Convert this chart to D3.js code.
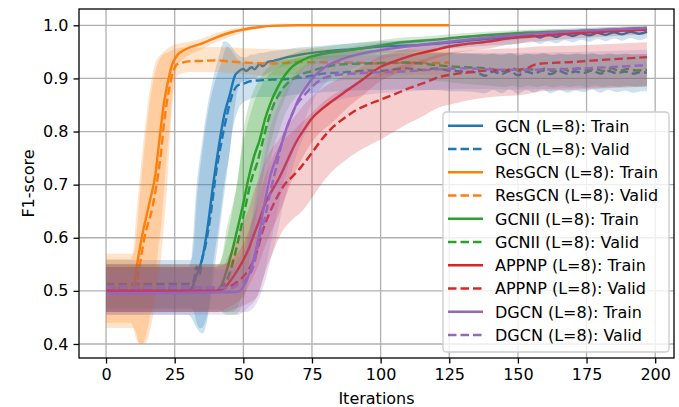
<!DOCTYPE html>
<html>
<head>
<meta charset="utf-8">
<script src="https://cdn.jsdelivr.net/npm/d3@7"></script>
<style>
  body { margin: 0; background: #fff; }
  text { font-family: "DejaVu Sans", sans-serif; }
</style>
</head>
<body>
<div id="chart"></div>
<script>
// [iteration, mean F1, band low, band high]
const gcnTrain = [
  [0,0.500,0.455,0.545],[30,0.500,0.455,0.545],[31,0.503,0.45,0.56],[33,0.530,0.43,0.70],
  [35,0.560,0.42,0.78],[37,0.620,0.45,0.85],[39,0.700,0.55,0.90],[41,0.770,0.62,0.94],
  [43,0.830,0.70,0.97],[45,0.868,0.76,0.965],[47,0.906,0.85,0.95],[48,0.912,0.88,0.945],
  [50,0.918,0.895,0.94],[51,0.914,0.895,0.94],[53,0.921,0.90,0.945],[54,0.917,0.90,0.945],
  [56,0.927,0.905,0.948],[57,0.923,0.905,0.948],[59,0.931,0.91,0.95],[61,0.933,0.915,0.952],
  [63,0.936,0.92,0.953],[66,0.940,0.925,0.955],[70,0.944,0.93,0.958],[75,0.948,0.935,0.96],
  [80,0.951,0.938,0.962],[90,0.955,0.942,0.966],[100,0.960,0.947,0.97],[110,0.962,0.95,0.972],
  [120,0.965,0.953,0.975],[130,0.970,0.958,0.979],[140,0.975,0.962,0.983],[150,0.978,0.965,0.986],
  [155,0.982,0.97,0.99],[158,0.977,0.965,0.986],[161,0.983,0.97,0.99],[164,0.978,0.966,0.987],
  [167,0.984,0.972,0.991],[170,0.980,0.968,0.988],[173,0.985,0.973,0.992],[176,0.981,0.969,0.989],
  [179,0.986,0.974,0.993],[182,0.982,0.97,0.99],[185,0.987,0.975,0.994],[188,0.983,0.971,0.991],
  [191,0.988,0.976,0.995],[194,0.984,0.972,0.992],[197,0.988,0.976,0.995]
];
const gcnValid = [
  [0,0.513,0.468,0.558],[31,0.513,0.468,0.558],[32,0.520,0.46,0.59],[33,0.545,0.44,0.67],
  [34,0.530,0.43,0.72],[35,0.560,0.43,0.76],[36,0.580,0.44,0.80],[38,0.640,0.48,0.86],
  [40,0.720,0.56,0.90],[42,0.780,0.64,0.93],[44,0.830,0.72,0.96],[46,0.870,0.80,0.95],
  [48,0.887,0.84,0.935],[50,0.890,0.855,0.93],[52,0.894,0.86,0.93],[55,0.896,0.865,0.93],
  [58,0.897,0.865,0.932],[62,0.898,0.865,0.933],[66,0.899,0.867,0.935],[70,0.901,0.87,0.937],
  [75,0.905,0.872,0.94],[79,0.909,0.874,0.942],[85,0.911,0.876,0.944],[90,0.913,0.877,0.945],
  [96,0.915,0.878,0.946],[100,0.914,0.878,0.946],[105,0.917,0.879,0.947],[110,0.919,0.88,0.948],
  [115,0.916,0.878,0.948],[120,0.919,0.878,0.948],[125,0.915,0.876,0.947],[130,0.913,0.876,0.946],
  [135,0.911,0.874,0.946],[138,0.905,0.872,0.944],[141,0.913,0.878,0.947],[144,0.908,0.872,0.944],
  [147,0.914,0.879,0.948],[150,0.906,0.871,0.943],[153,0.913,0.878,0.947],[156,0.909,0.873,0.945],
  [159,0.915,0.879,0.948],[162,0.908,0.872,0.944],[165,0.914,0.878,0.947],[168,0.909,0.873,0.945],
  [171,0.913,0.877,0.947],[174,0.910,0.874,0.945],[177,0.915,0.879,0.948],[180,0.909,0.873,0.944],
  [183,0.914,0.878,0.947],[186,0.910,0.874,0.945],[189,0.913,0.877,0.947],[192,0.909,0.873,0.945],
  [195,0.912,0.876,0.946],[197,0.911,0.876,0.946]
];
const resTrain = [
  [0,0.500,0.44,0.56],[9,0.500,0.44,0.56],[10,0.505,0.43,0.58],[11,0.540,0.41,0.64],
  [13,0.600,0.40,0.75],[16,0.670,0.45,0.88],[18,0.720,0.52,0.93],[19,0.765,0.58,0.94],
  [20,0.810,0.62,0.945],[21,0.850,0.68,0.95],[22,0.880,0.75,0.955],[23,0.905,0.80,0.958],
  [24,0.925,0.86,0.962],[26,0.944,0.925,0.965],[29,0.955,0.94,0.968],[35,0.966,0.955,0.975],
  [40,0.977,0.968,0.985],[45,0.986,0.978,0.992],[50,0.992,0.987,0.997],[55,0.996,0.993,0.999],
  [60,0.999,0.997,1.0],[70,1.0,0.999,1.0],[125,1.0,0.999,1.0]
];
const resValid = [
  [0,0.505,0.43,0.57],[10,0.505,0.43,0.57],[11,0.510,0.42,0.60],[12,0.540,0.40,0.66],
  [14,0.600,0.40,0.77],[17,0.660,0.45,0.89],[19,0.720,0.52,0.93],[20,0.760,0.56,0.94],
  [21,0.810,0.62,0.945],[22,0.850,0.68,0.948],[23,0.880,0.76,0.95],[24,0.905,0.84,0.953],
  [25,0.920,0.89,0.955],[26,0.927,0.905,0.957],[28,0.930,0.91,0.958],[30,0.932,0.912,0.958],
  [35,0.933,0.912,0.958],[40,0.934,0.912,0.959],[45,0.932,0.91,0.958],[50,0.930,0.908,0.957],
  [55,0.929,0.906,0.956],[60,0.928,0.905,0.955],[65,0.929,0.906,0.955],[70,0.931,0.908,0.956],
  [80,0.930,0.908,0.956],[90,0.930,0.907,0.955],[100,0.928,0.906,0.954],[110,0.930,0.907,0.955],
  [120,0.929,0.906,0.954],[125,0.930,0.907,0.955]
];
const gcn2Train = [
  [0,0.500,0.46,0.545],[40,0.500,0.46,0.545],[42,0.510,0.46,0.56],[44,0.540,0.46,0.62],
  [46,0.577,0.46,0.66],[48,0.620,0.47,0.71],[50,0.665,0.50,0.80],[52,0.715,0.55,0.85],
  [54,0.755,0.62,0.88],[56,0.785,0.68,0.90],[58,0.825,0.74,0.915],[60,0.855,0.78,0.925],
  [62,0.878,0.82,0.932],[65,0.905,0.86,0.94],[67,0.918,0.885,0.945],[70,0.930,0.905,0.95],
  [73,0.938,0.92,0.955],[80,0.947,0.932,0.96],[90,0.954,0.94,0.966],[100,0.962,0.95,0.972],
  [108,0.968,0.957,0.977],[118,0.972,0.962,0.98],[130,0.978,0.969,0.985],[150,0.985,0.978,0.991],
  [175,0.990,0.984,0.995],[197,0.995,0.99,0.999]
];
const gcn2Valid = [
  [0,0.506,0.465,0.55],[41,0.506,0.465,0.55],[44,0.520,0.455,0.60],[47,0.570,0.455,0.68],
  [50,0.640,0.48,0.78],[53,0.710,0.55,0.84],[55,0.740,0.60,0.87],[57,0.780,0.66,0.89],
  [59,0.820,0.72,0.905],[61,0.850,0.77,0.915],[63,0.870,0.80,0.922],[65,0.885,0.83,0.93],
  [67,0.895,0.85,0.935],[70,0.905,0.87,0.94],[75,0.914,0.885,0.943],[80,0.922,0.893,0.947],
  [85,0.926,0.896,0.95],[93,0.928,0.898,0.952],[100,0.929,0.899,0.953],[108,0.930,0.9,0.953],
  [115,0.928,0.898,0.952],[120,0.925,0.895,0.95],[125,0.923,0.893,0.949],[130,0.921,0.89,0.948],
  [135,0.920,0.888,0.947],[140,0.918,0.886,0.946],[145,0.914,0.884,0.945],[148,0.919,0.886,0.947],
  [151,0.913,0.883,0.944],[154,0.918,0.886,0.946],[157,0.914,0.884,0.945],[160,0.919,0.886,0.947],
  [163,0.913,0.883,0.944],[166,0.918,0.886,0.946],[169,0.914,0.884,0.945],[172,0.919,0.886,0.947],
  [175,0.915,0.884,0.945],[178,0.918,0.886,0.946],[181,0.914,0.884,0.945],[184,0.919,0.886,0.947],
  [187,0.914,0.884,0.945],[190,0.918,0.886,0.946],[193,0.915,0.884,0.945],[197,0.916,0.885,0.946]
];
const appTrain = [
  [0,0.500,0.46,0.545],[40,0.500,0.46,0.545],[43,0.505,0.465,0.55],[45,0.517,0.47,0.57],
  [48,0.540,0.48,0.60],[50,0.558,0.49,0.63],[52,0.580,0.51,0.655],[54,0.608,0.53,0.69],
  [56,0.635,0.555,0.715],[58,0.665,0.585,0.745],[60,0.685,0.61,0.765],[63,0.712,0.645,0.785],
  [66,0.745,0.685,0.81],[69,0.778,0.725,0.83],[72,0.803,0.755,0.85],[75,0.825,0.78,0.866],
  [78,0.840,0.798,0.878],[82,0.856,0.815,0.892],[88,0.878,0.845,0.908],[94,0.900,0.87,0.925],
  [100,0.922,0.895,0.942],[104,0.930,0.905,0.948],[110,0.941,0.92,0.957],[115,0.948,0.93,0.962],
  [120,0.954,0.938,0.966],[125,0.960,0.945,0.97],[130,0.964,0.95,0.974],[140,0.970,0.957,0.979],
  [146,0.975,0.963,0.983],[155,0.979,0.968,0.986],[170,0.985,0.975,0.991],[185,0.989,0.98,0.994],
  [197,0.992,0.983,0.997]
];
const appValid = [
  [0,0.505,0.46,0.55],[43,0.505,0.46,0.55],[46,0.511,0.465,0.56],[49,0.522,0.47,0.58],
  [51,0.533,0.475,0.60],[53,0.550,0.48,0.63],[55,0.575,0.49,0.66],[57,0.612,0.52,0.70],
  [59,0.640,0.55,0.73],[61,0.663,0.575,0.755],[63,0.683,0.60,0.772],[65,0.700,0.618,0.786],
  [68,0.716,0.635,0.80],[71,0.733,0.648,0.816],[75,0.760,0.675,0.835],[79,0.788,0.705,0.855],
  [83,0.810,0.728,0.87],[87,0.826,0.745,0.88],[91,0.840,0.76,0.89],[95,0.850,0.772,0.90],
  [100,0.860,0.785,0.91],[105,0.870,0.80,0.92],[110,0.881,0.815,0.928],[115,0.890,0.828,0.935],
  [121,0.902,0.845,0.945],[127,0.908,0.853,0.95],[133,0.912,0.86,0.953],[140,0.915,0.865,0.955],
  [149,0.916,0.868,0.957],[153,0.919,0.87,0.958],[157,0.927,0.875,0.96],[170,0.931,0.878,0.962],
  [184,0.936,0.882,0.965],[197,0.940,0.885,0.968]
];
const dgcnTrain = [
  [0,0.495,0.455,0.54],[48,0.498,0.455,0.54],[50,0.508,0.46,0.55],[52,0.530,0.47,0.60],
  [54,0.565,0.48,0.67],[56,0.614,0.50,0.73],[58,0.672,0.54,0.79],[60,0.720,0.59,0.84],
  [62,0.750,0.64,0.865],[64,0.778,0.69,0.88],[66,0.810,0.73,0.895],[68,0.835,0.76,0.905],
  [70,0.860,0.79,0.915],[73,0.885,0.83,0.928],[76,0.905,0.865,0.94],[80,0.922,0.892,0.948],
  [88,0.940,0.915,0.958],[96,0.950,0.93,0.965],[108,0.959,0.945,0.971],[125,0.969,0.958,0.978],
  [150,0.982,0.973,0.989],[175,0.990,0.983,0.995],[197,0.995,0.99,0.999]
];
const dgcnValid = [
  [0,0.506,0.46,0.55],[46,0.506,0.46,0.55],[48,0.512,0.46,0.56],[51,0.522,0.46,0.59],
  [54,0.552,0.47,0.65],[56,0.602,0.49,0.71],[58,0.640,0.52,0.76],[60,0.690,0.56,0.81],
  [62,0.733,0.60,0.84],[64,0.778,0.65,0.865],[67,0.823,0.71,0.89],[69,0.847,0.75,0.905],
  [72,0.867,0.79,0.915],[75,0.884,0.82,0.925],[79,0.900,0.845,0.935],[85,0.907,0.86,0.94],
  [90,0.909,0.865,0.942],[96,0.911,0.87,0.943],[108,0.913,0.875,0.945],[118,0.916,0.878,0.947],
  [130,0.919,0.88,0.948],[140,0.917,0.88,0.948],[150,0.916,0.879,0.948],[160,0.917,0.88,0.949],
  [175,0.919,0.882,0.95],[186,0.922,0.884,0.952],[197,0.925,0.886,0.954]
];

const models = ["GCN", "ResGCN", "GCNII", "APPNP", "DGCN"];
const colors = ["#1f77b4", "#ff7f0e", "#2ca02c", "#d62728", "#9467bd"];
const trainSeries = [gcnTrain, resTrain, gcn2Train, appTrain, dgcnTrain];
const validSeries = [gcnValid, resValid, gcn2Valid, appValid, dgcnValid];
const xTicks = [0, 25, 50, 75, 100, 125, 150, 175, 200];
const yTicks = [0.4, 0.5, 0.6, 0.7, 0.8, 0.9, 1.0];

let W = 679, H = 407;
let margin = {top: 9, right: 5, bottom: 49, left: 79};
let width = W - margin.left - margin.right;
let height = H - margin.top - margin.bottom;

let svg = d3.select("#chart").append("svg")
  .attr("width", W).attr("height", H)
  .append("g")
  .attr("transform", "translate(" + margin.left + "," + margin.top + ")");

let x = d3.scaleLinear().domain([-9.85, 206.85]).range([0, width]);
let y = d3.scaleLinear().domain([0.3736, 1.0307]).range([height, 0]);

// grid
svg.append("g").selectAll("line").data(xTicks).join("line")
  .attr("x1", d => x(d)).attr("x2", d => x(d))
  .attr("y1", 0).attr("y2", height)
  .attr("stroke", "#b0b0b0").attr("stroke-width", 1.3);
svg.append("g").selectAll("line").data(yTicks).join("line")
  .attr("x1", 0).attr("x2", width)
  .attr("y1", d => y(d)).attr("y2", d => y(d))
  .attr("stroke", "#b0b0b0").attr("stroke-width", 1.3);

let area = d3.area()
  .x(d => x(d[0])).y0(d => y(d[2])).y1(d => y(d[3]))
  .curve(d3.curveMonotoneX);
let line = d3.line()
  .x(d => x(d[0])).y(d => y(d[1]))
  .curve(d3.curveMonotoneX);

let plot = svg.append("g");
models.forEach((m, i) => {
  plot.append("path").datum(trainSeries[i])
    .attr("d", area).attr("fill", colors[i]).attr("fill-opacity", 0.22);
  plot.append("path").datum(trainSeries[i])
    .attr("d", line).attr("fill", "none")
    .attr("stroke", colors[i]).attr("stroke-width", 2.4);
  plot.append("path").datum(validSeries[i])
    .attr("d", area).attr("fill", colors[i]).attr("fill-opacity", 0.22);
  plot.append("path").datum(validSeries[i])
    .attr("d", line).attr("fill", "none")
    .attr("stroke", colors[i]).attr("stroke-width", 2.4)
    .attr("stroke-dasharray", "8.5,4");
});

// axes
let xAxis = svg.append("g")
  .attr("transform", "translate(0," + height + ")")
  .call(d3.axisBottom(x).tickValues(xTicks).tickSize(5.5).tickPadding(5).tickFormat(d3.format("d")));
let yAxis = svg.append("g")
  .call(d3.axisLeft(y).tickValues(yTicks).tickSize(5.5).tickPadding(5).tickFormat(d3.format(".1f")));
[xAxis, yAxis].forEach(a => {
  a.select(".domain").remove();
  a.selectAll("text").attr("font-size", 16).attr("fill", "#000")
    .attr("font-family", "DejaVu Sans, sans-serif");
  a.selectAll(".tick line").attr("stroke", "#000").attr("stroke-width", 1.3);
});

// spines
svg.append("rect")
  .attr("x", 0).attr("y", 0).attr("width", width).attr("height", height)
  .attr("fill", "none").attr("stroke", "#000").attr("stroke-width", 1.3);

svg.append("text")
  .attr("x", width / 2).attr("y", height + 45.5)
  .attr("text-anchor", "middle").attr("font-size", 16)
  .text("Iterations");
svg.append("text")
  .attr("transform", "translate(" + (-45.5) + "," + (height / 2) + ") rotate(-90)")
  .attr("text-anchor", "middle").attr("font-size", 16)
  .text("F1-score");

// legend
let legendItems = [];
models.forEach((m, i) => {
  legendItems.push({label: m + " (L=8): Train", color: colors[i], dash: null});
  legendItems.push({label: m + " (L=8): Valid", color: colors[i], dash: "8.5,4"});
});
let lg = svg.append("g").attr("transform", "translate(" + (443 - margin.left) + "," + (112 - margin.top) + ")");
lg.append("rect")
  .attr("width", 226).attr("height", 240).attr("rx", 3.5)
  .attr("fill", "#fff").attr("fill-opacity", 0.8)
  .attr("stroke", "#cccccc").attr("stroke-width", 1.3);
let rows = lg.selectAll("g.row").data(legendItems).join("g")
  .attr("class", "row")
  .attr("transform", (d, i) => "translate(0," + (13.7 + i * 23.26) + ")");
rows.append("line")
  .attr("x1", 5).attr("x2", 40).attr("y1", 0).attr("y2", 0)
  .attr("stroke", d => d.color).attr("stroke-width", 2.4)
  .attr("stroke-dasharray", d => d.dash);
rows.append("text")
  .attr("x", 52).attr("y", 5.8).attr("font-size", 16)
  .text(d => d.label);
</script>
</body>
</html>
